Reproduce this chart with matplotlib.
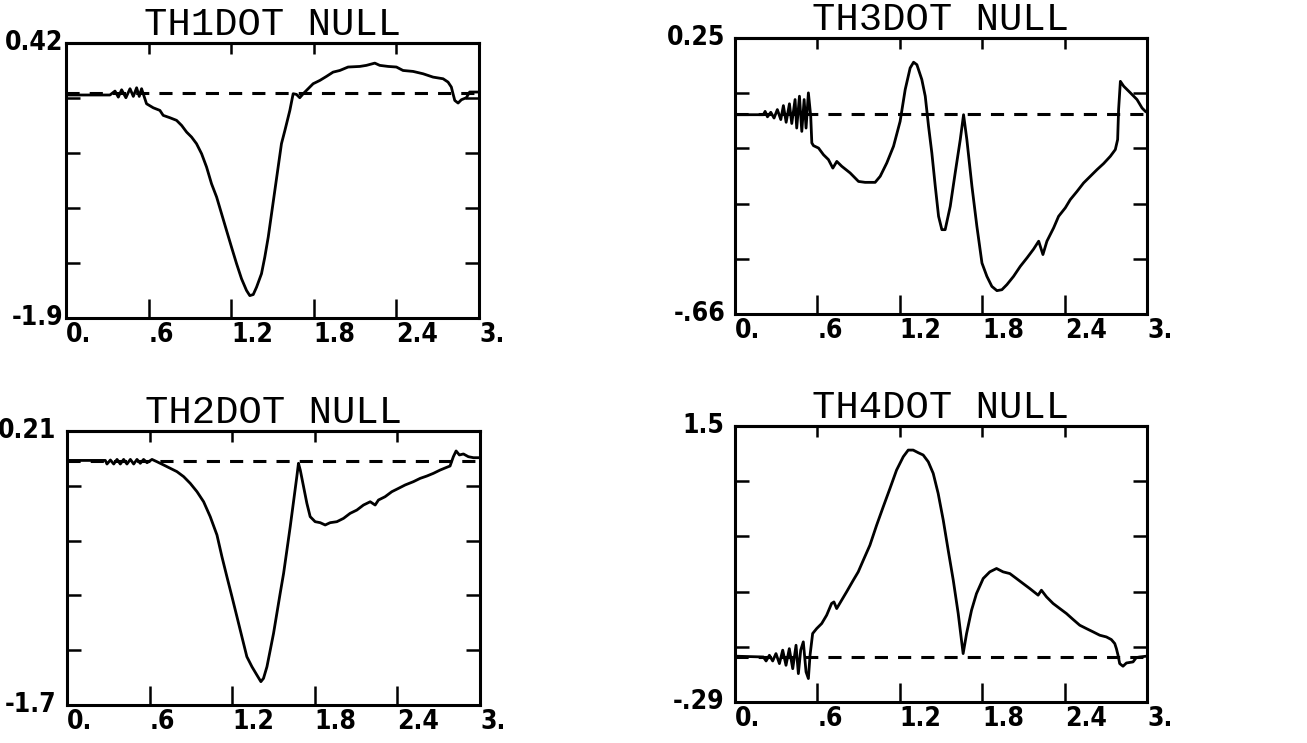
import matplotlib
matplotlib.use("Agg")
import matplotlib.pyplot as plt

# ---- data ----
th1_t = [0.0, 0.319, 0.356, 0.380, 0.404, 0.435, 0.465, 0.489, 0.513, 0.532, 0.549, 0.573,
         0.585, 0.634, 0.682, 0.706, 0.755, 0.803, 0.840, 0.876, 0.912, 0.948, 0.985, 1.021,
         1.057, 1.094, 1.130, 1.166, 1.202, 1.239, 1.275, 1.311, 1.335, 1.360, 1.384, 1.420,
         1.444, 1.469, 1.493, 1.517, 1.541, 1.565, 1.590, 1.626, 1.650, 1.674, 1.698, 1.723,
         1.759, 1.795, 1.844, 1.892, 1.940, 1.989, 2.049, 2.134, 2.182, 2.243, 2.279, 2.340,
         2.400, 2.448, 2.521, 2.594, 2.666, 2.739, 2.775, 2.799, 2.811, 2.824, 2.848, 2.872,
         2.908, 2.932, 3.0]
th1_v = [-0.018, -0.018, 0.015, -0.036, 0.026, -0.041, 0.035, -0.030, 0.043, -0.030, 0.035, -0.050,
         -0.092, -0.126, -0.148, -0.190, -0.210, -0.232, -0.275, -0.331, -0.373, -0.429, -0.514, -0.626,
         -0.767, -0.879, -1.020, -1.161, -1.301, -1.442, -1.569, -1.667, -1.711, -1.702, -1.640, -1.526,
         -1.386, -1.217, -1.020, -0.823, -0.626, -0.429, -0.317, -0.148, -0.007, -0.013, -0.041, -0.007,
         0.035, 0.077, 0.105, 0.139, 0.175, 0.189, 0.218, 0.223, 0.232, 0.251, 0.232, 0.223,
         0.218, 0.189, 0.181, 0.161, 0.133, 0.119, 0.091, 0.049, -0.007, -0.064, -0.086, -0.058,
         -0.041, 0.007, 0.007]

th3_t = [0.0, 0.206, 0.219, 0.236, 0.260, 0.284, 0.308, 0.333, 0.352, 0.372, 0.396, 0.413,
         0.437, 0.449, 0.469, 0.486, 0.503, 0.517, 0.534, 0.551, 0.559, 0.571, 0.608, 0.644,
         0.680, 0.712, 0.741, 0.777, 0.838, 0.899, 0.947, 1.020, 1.057, 1.105, 1.154, 1.202,
         1.239, 1.275, 1.300, 1.324, 1.360, 1.385, 1.409, 1.433, 1.458, 1.482, 1.506, 1.530,
         1.567, 1.603, 1.640, 1.664, 1.688, 1.725, 1.761, 1.798, 1.834, 1.870, 1.907, 1.943,
         1.980, 2.028, 2.077, 2.126, 2.174, 2.211, 2.242, 2.271, 2.320, 2.356, 2.405, 2.441,
         2.490, 2.538, 2.587, 2.636, 2.684, 2.733, 2.769, 2.786, 2.793, 2.806, 2.830, 2.879,
         2.927, 2.964, 2.988]
th3_v = [-0.003, -0.003, 0.008, -0.010, 0.005, -0.014, 0.014, -0.019, 0.027, -0.028, 0.033, -0.032,
         0.047, -0.047, 0.058, -0.058, 0.047, -0.047, 0.069, -0.008, -0.096, -0.105, -0.113, -0.135,
         -0.151, -0.179, -0.157, -0.173, -0.195, -0.223, -0.226, -0.226, -0.206, -0.162, -0.107, -0.025,
         0.080, 0.151, 0.170, 0.162, 0.113, 0.058, -0.041, -0.129, -0.239, -0.338, -0.382, -0.382,
         -0.305, -0.195, -0.085, -0.003, -0.085, -0.239, -0.371, -0.492, -0.536, -0.569, -0.583, -0.580,
         -0.563, -0.536, -0.503, -0.475, -0.446, -0.420, -0.464, -0.420, -0.376, -0.338, -0.310, -0.283,
         -0.256, -0.228, -0.206, -0.184, -0.164, -0.140, -0.118, -0.085, 0.014, 0.107, 0.091, 0.069,
         0.047, 0.019, 0.008]

th2_t = [0.0, 0.278, 0.290, 0.315, 0.339, 0.363, 0.387, 0.411, 0.435, 0.460, 0.484, 0.508,
         0.532, 0.556, 0.581, 0.617, 0.653, 0.702, 0.750, 0.798, 0.847, 0.895, 0.944, 0.992,
         1.040, 1.089, 1.125, 1.161, 1.198, 1.234, 1.270, 1.306, 1.343, 1.379, 1.408, 1.427,
         1.452, 1.476, 1.500, 1.524, 1.548, 1.573, 1.597, 1.621, 1.645, 1.669, 1.681, 1.694,
         1.718, 1.742, 1.766, 1.802, 1.839, 1.875, 1.911, 1.960, 2.008, 2.056, 2.105, 2.153,
         2.202, 2.238, 2.262, 2.310, 2.359, 2.407, 2.456, 2.516, 2.565, 2.613, 2.661, 2.710,
         2.758, 2.782, 2.806, 2.826, 2.850, 2.879, 2.915, 2.952, 3.0]
th2_v = [0.005, 0.005, -0.020, 0.008, -0.020, 0.012, -0.020, 0.012, -0.020, 0.012, -0.020, 0.012,
         -0.015, 0.012, -0.011, 0.012, -0.004, -0.027, -0.050, -0.073, -0.108, -0.155, -0.213, -0.283,
         -0.387, -0.515, -0.666, -0.805, -0.945, -1.084, -1.224, -1.363, -1.433, -1.491, -1.537, -1.514,
         -1.433, -1.317, -1.200, -1.061, -0.922, -0.782, -0.620, -0.457, -0.283, -0.108, -0.015, -0.062,
         -0.178, -0.294, -0.387, -0.422, -0.429, -0.445, -0.429, -0.422, -0.399, -0.364, -0.341, -0.306,
         -0.283, -0.306, -0.271, -0.248, -0.213, -0.190, -0.166, -0.143, -0.120, -0.104, -0.085, -0.062,
         -0.043, -0.034, 0.031, 0.071, 0.043, 0.050, 0.031, 0.024, 0.024]

th4_t = [0.0, 0.206, 0.226, 0.250, 0.274, 0.298, 0.323, 0.347, 0.371, 0.395, 0.420, 0.444,
         0.461, 0.478, 0.497, 0.517, 0.534, 0.546, 0.565, 0.594, 0.631, 0.667, 0.703, 0.720,
         0.740, 0.776, 0.812, 0.861, 0.897, 0.934, 0.982, 1.031, 1.079, 1.128, 1.176, 1.225,
         1.261, 1.297, 1.334, 1.370, 1.407, 1.443, 1.479, 1.516, 1.552, 1.589, 1.625, 1.649,
         1.661, 1.686, 1.722, 1.758, 1.807, 1.855, 1.904, 1.952, 2.001, 2.049, 2.098, 2.146,
         2.207, 2.231, 2.268, 2.316, 2.365, 2.413, 2.462, 2.510, 2.559, 2.607, 2.656, 2.704,
         2.740, 2.765, 2.777, 2.789, 2.801, 2.825, 2.850, 2.898, 2.922, 2.947, 2.995]
th4_v = [0.007, 0.002, -0.024, 0.013, -0.024, 0.024, -0.041, 0.046, -0.052, 0.056, -0.074, 0.078,
         -0.106, 0.046, 0.100, -0.095, -0.138, 0.013, 0.154, 0.186, 0.219, 0.273, 0.349, 0.359,
         0.316, 0.370, 0.424, 0.500, 0.554, 0.630, 0.727, 0.857, 0.976, 1.095, 1.214, 1.301,
         1.344, 1.344, 1.327, 1.312, 1.268, 1.193, 1.063, 0.890, 0.695, 0.500, 0.284, 0.110,
         0.024, 0.154, 0.305, 0.413, 0.511, 0.554, 0.576, 0.554, 0.543, 0.511, 0.478, 0.446,
         0.403, 0.435, 0.392, 0.349, 0.316, 0.284, 0.245, 0.208, 0.186, 0.165, 0.143, 0.132,
         0.115, 0.089, 0.056, 0.013, -0.041, -0.058, -0.037, -0.030, -0.002, 0.002, 0.007]

titles = ["TH1DOT NULL", "TH3DOT NULL", "TH2DOT NULL", "TH4DOT NULL"]
y_limits = [(-1.9, 0.42), (-0.66, 0.25), (-1.7, 0.21), (-0.29, 1.5)]
y_end_labels = [("-1.9", "0.42"), ("-.66", "0.25"), ("-1.7", "0.21"), ("-.29", "1.5")]
x_ticks = [0, 0.6, 1.2, 1.8, 2.4, 3.0]
x_tick_labels = ["0.", ".6", "1.2", "1.8", "2.4", "3."]

series = [(th1_t, th1_v), (th3_t, th3_v), (th2_t, th2_v), (th4_t, th4_v)]

# axes rectangles in figure fraction (left, bottom, width, height)
rects = [
    (0.0505, 0.572, 0.316, 0.370),
    (0.5624, 0.5774, 0.3152, 0.3715),
    (0.0513, 0.0511, 0.316, 0.3688),
    (0.5624, 0.0552, 0.3152, 0.3714),
]
ylab_pads = [2, 7, 8, 8]

TICK_FONT = dict(family=["DejaVu Sans Condensed", "DejaVu Sans"], stretch="condensed",
                 weight="bold", size=19)

fig = plt.figure(figsize=(13.07, 7.43), dpi=100)
fig.patch.set_facecolor("white")

for (t, v), title, (ylo, yhi), (lab_lo, lab_hi), rect, ypad in zip(
        series, titles, y_limits, y_end_labels, rects, ylab_pads):
    ax = fig.add_axes(rect)
    ax.plot(t, v, color="black", linewidth=2.0, solid_joinstyle="round")
    ax.axhline(0, color="black", linewidth=2.2, linestyle=(0, (4.3, 3.3)))

    ax.set_xlim(0, 3)
    ax.set_ylim(ylo, yhi)

    for sp in ax.spines.values():
        sp.set_linewidth(2.2)

    # x ticks: long marks at bottom, labels left-aligned at tick
    ax.set_xticks(x_ticks)
    ax.set_xticklabels(x_tick_labels, fontdict=TICK_FONT, ha="left")
    ax.tick_params(axis="x", direction="in", length=14, width=1.8, pad=3)

    # y ticks: 4 interior marks, labels only on the ends
    step = (yhi - ylo) / 5
    yt = [ylo + k * step for k in range(6)]
    ax.set_yticks(yt)
    ax.set_yticklabels([lab_lo, "", "", "", "", lab_hi], fontdict=TICK_FONT, va="center")
    ax.tick_params(axis="y", direction="in", length=10, width=1.8, right=True, pad=ypad)

    top = ax.secondary_xaxis("top")
    top.set_xticks(x_ticks)
    top.tick_params(direction="in", length=8, width=1.8, labeltop=False)
    top.spines["top"].set_linewidth(2.2)

    ax.set_title(title, family="Liberation Mono", fontsize=28, pad=2)

fig.savefig("out.png", dpi=100, facecolor="white")
